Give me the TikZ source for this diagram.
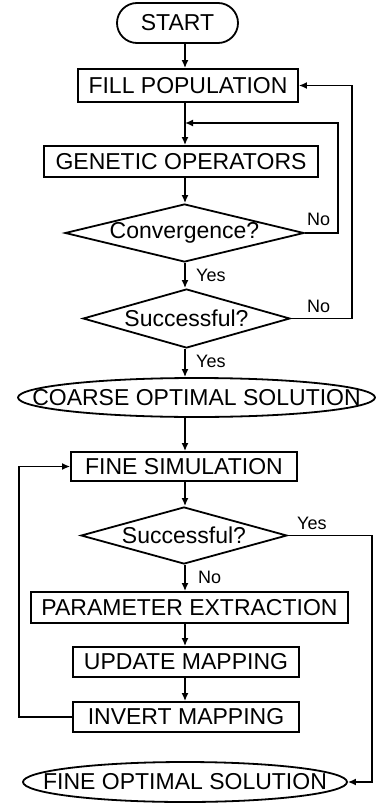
\documentclass[tikz,border=0pt]{standalone}
\usepackage{fontspec}
\setmainfont{Liberation Sans}
\usetikzlibrary{shapes.geometric,arrows.meta}
\begin{document}
\begin{tikzpicture}[x=1pt,y=-1pt,
  every node/.style={inner sep=0pt, font=\fontsize{23}{26}\selectfont},
  proc/.style={draw, line width=1.8pt, rectangle},
  term/.style={draw, line width=1.8pt, ellipse},
  dec/.style={draw, line width=1.8pt, diamond},
  lab/.style={font=\fontsize{18}{20}\selectfont, anchor=west},
  arr/.style={line width=2.4pt, -{Latex[length=8pt,width=7pt]}},
  fb/.style={line width=1.5pt, -{Latex[length=8pt,width=7pt]}}
]
\useasboundingbox (0,0) rectangle (377,805);
\coordinate (ax) at (185,0);
\coordinate (r1) at (338,0);
\coordinate (r2) at (352,0);
\coordinate (r3) at (372,0);
\coordinate (l4) at (19,0);
\coordinate (j1) at (185,123);

\node[draw, line width=1.8pt, rounded corners=20pt, minimum width=121pt, minimum height=40pt] (start) at (177.5,23) {START};
\node[proc, minimum width=220pt, minimum height=33pt] (fill) at (188,85.5) {FILL POPULATION};
\node[proc, minimum width=274pt, minimum height=31pt] (gen) at (181,161.5) {GENETIC OPERATORS};
\node[dec, minimum width=239pt, minimum height=58pt] (conv) at (184.5,233) {\makebox[0pt]{Convergence?}};
\node[dec, minimum width=207pt, minimum height=59pt] (succ1) at (186.5,318.5) {\makebox[0pt]{Successful?}};
\node[term, minimum width=357pt, minimum height=39pt] (coarse) at (196.5,397.5) {\makebox[0pt]{COARSE OPTIMAL SOLUTION}};
\node[proc, minimum width=226pt, minimum height=29pt] (finesim) at (184,466.5) {FINE SIMULATION};
\node[dec, minimum width=206pt, minimum height=57pt] (succ2) at (184,535.5) {\makebox[0pt]{Successful?}};
\node[proc, minimum width=317pt, minimum height=31pt] (param) at (189.5,607.5) {PARAMETER EXTRACTION};
\node[proc, minimum width=226pt, minimum height=30pt] (update) at (186,662) {UPDATE MAPPING};
\node[proc, minimum width=226pt, minimum height=30pt] (invert) at (186,717) {INVERT MAPPING};
\node[term, minimum width=324pt, minimum height=40pt] (fineopt) at (185,782) {\makebox[0pt]{FINE OPTIMAL SOLUTION}};

\node[lab] (y1) at (196,275) {Yes};
\node[lab] (y2) at (196,361) {Yes};
\node[lab] (n1) at (307,219) {No};
\node[lab] (n2) at (307,306) {No};
\node[lab] (y3) at (297,523) {Yes};
\node[lab] (n3) at (198,577) {No};

\draw[arr] (start.south -| ax) -- (fill.north -| ax);
\draw[arr] (fill.south -| ax) -- (gen.north -| ax);
\draw[arr] (gen.south -| ax) -- (conv.north -| ax);
\draw[arr] (conv.south -| ax) -- (succ1.north -| ax);
\draw[arr] (succ1.south -| ax) -- (coarse.north -| ax);
\draw[arr] (coarse.south -| ax) -- (finesim.north -| ax);
\draw[arr] (finesim.south -| ax) -- (succ2.north -| ax);
\draw[arr] (succ2.south -| ax) -- (param.north -| ax);
\draw[arr] (param.south -| ax) -- (update.north -| ax);
\draw[arr] (update.south -| ax) -- (invert.north -| ax);

\draw[fb] (conv.east) -| (r1 |- j1) -- (j1);
\draw[fb] (succ1.east) -| (r2 |- fill.east) -- (fill.east);
\draw[fb] (succ2.east) -| (r3 |- fineopt.east) -- (fineopt.east);
\draw[fb] (invert.west) -| (l4 |- finesim.west) -- (finesim.west);
\end{tikzpicture}
\end{document}
